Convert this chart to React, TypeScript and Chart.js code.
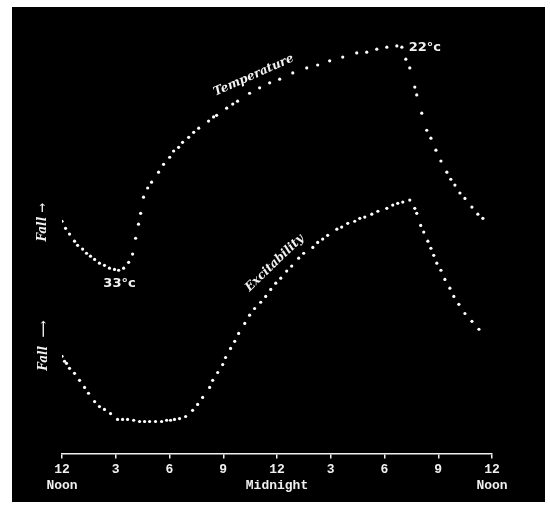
import React, { useEffect, useRef } from "react";
import { Chart, registerables } from "chart.js";

Chart.register(...registerables);

// Hours after noon (0 = 12 noon, 24 = next noon)
const tempHours = [0.0, 0.2, 0.42, 0.7, 0.87, 1.15, 1.37, 1.59, 1.82, 2.09, 2.37, 2.65, 2.93, 3.16, 3.44, 3.72, 3.94, 4.11, 4.27, 4.39, 4.55, 4.78, 5.0, 5.39, 5.67, 6.01, 6.23, 6.51, 6.73, 7.07, 7.35, 7.63, 8.18, 8.46, 8.63, 9.19, 9.53, 9.8, 10.47, 11.03, 11.59, 12.15, 12.88, 13.66, 14.27, 14.94, 15.67, 16.45, 17.01, 17.57, 18.13, 18.69, 18.97, 19.19, 19.41, 19.69, 19.8, 20.08, 20.36, 20.59, 20.87, 21.15, 21.48, 21.7, 21.93, 22.21, 22.49, 22.88, 23.21, 23.49];
// Relative "fall" level (arbitrary units, 0..100)
const tempValues = [55.9, 54.2, 52.8, 51.1, 50.1, 49.2, 48.2, 47.5, 46.7, 45.8, 45.3, 44.6, 44.3, 44.1, 44.6, 46.0, 48.0, 51.8, 55.2, 57.8, 61.7, 63.9, 65.3, 67.7, 69.6, 71.3, 72.8, 73.7, 74.9, 76.1, 77.3, 78.3, 80.0, 81.0, 81.4, 83.1, 84.1, 84.8, 86.7, 88.0, 89.2, 90.1, 91.6, 92.8, 93.5, 94.5, 95.4, 96.4, 96.6, 97.3, 97.8, 98.1, 97.8, 94.9, 92.8, 88.2, 86.3, 81.9, 77.8, 75.9, 73.0, 70.4, 67.7, 66.0, 64.6, 62.7, 61.4, 59.3, 57.6, 56.6];

const excHours = [0.0, 0.14, 0.25, 0.42, 0.7, 0.98, 1.26, 1.48, 1.82, 2.09, 2.37, 2.71, 3.1, 3.38, 3.66, 4.0, 4.33, 4.61, 4.89, 5.22, 5.56, 5.84, 6.06, 6.28, 6.56, 6.9, 7.29, 7.57, 7.85, 8.24, 8.41, 8.69, 8.97, 9.13, 9.41, 9.64, 9.86, 10.2, 10.47, 10.75, 11.09, 11.37, 11.65, 11.93, 12.21, 12.54, 12.82, 13.21, 13.49, 14.0, 14.27, 14.55, 14.83, 15.34, 15.61, 15.95, 16.34, 16.62, 16.9, 17.29, 17.63, 18.13, 18.46, 18.74, 19.02, 19.41, 19.69, 19.8, 20.02, 20.19, 20.42, 20.59, 20.75, 20.92, 21.15, 21.37, 21.65, 21.87, 22.15, 22.49, 22.88, 23.27];
const excValues = [23.4, 22.2, 21.7, 20.5, 19.3, 17.6, 15.9, 14.5, 12.5, 11.3, 10.6, 9.6, 8.2, 8.2, 8.2, 8.0, 7.7, 7.7, 7.7, 7.7, 7.7, 8.0, 8.0, 8.2, 8.4, 8.9, 10.4, 11.8, 13.5, 15.9, 17.6, 19.5, 21.4, 23.1, 25.3, 27.0, 28.9, 31.3, 33.3, 34.9, 36.4, 37.8, 39.5, 41.0, 42.2, 43.9, 45.1, 47.0, 48.2, 49.6, 50.8, 51.6, 52.5, 54.0, 54.5, 55.4, 55.9, 56.6, 56.9, 57.6, 58.3, 59.0, 59.8, 60.2, 60.5, 61.0, 59.0, 57.8, 54.9, 53.3, 51.1, 49.4, 47.7, 45.8, 44.1, 41.9, 39.8, 37.8, 35.9, 33.7, 31.8, 29.9];

const tickHours = [0, 3, 6, 9, 12, 15, 18, 21, 24];
const tickLabels = ["12", "3", "6", "9", "12", "3", "6", "9", "12"];
const tickSubLabels = ["Noon", "", "", "", "Midnight", "", "", "", "Noon"];

// Text annotations: [text, hour, value, rotation(deg), font]
const notes: [string, number, number, number, string][] = [
  ["Temperature", 10.7, 91.0, -24, "italic bold 12px 'DejaVu Serif'"],
  ["Excitability", 11.87, 45.8, -44, "italic bold 12px 'DejaVu Serif'"],
  ["33°c", 3.21, 41.0, 0, "bold 13px 'DejaVu Sans'"],
  ["22°c", 20.25, 97.6, 0, "bold 13px 'DejaVu Sans'"],
  ["Fall →", -1.09, 55.7, -90, "italic bold 12px 'DejaVu Serif'"],
  ["Fall  ⟶", -1.03, 26.0, -90, "italic bold 12px 'DejaVu Serif'"],
];

const toPts = (xs: number[], ys: number[]) => xs.map((x, i) => ({ x, y: ys[i] }));

export default function App() {
  const ref = useRef<HTMLCanvasElement | null>(null);
  useEffect(() => {
    if (!ref.current) return;
    const notesPlugin = {
      id: "notes",
      afterDatasetsDraw(chart: any) {
        const { ctx, scales } = chart;
        ctx.save();
        ctx.fillStyle = "#f2f2f2";
        ctx.textAlign = "center";
        ctx.textBaseline = "middle";
        for (const [t, h, v, rot, font] of notes) {
          const px = scales.x.getPixelForValue(h);
          const py = scales.y.getPixelForValue(v);
          ctx.save();
          ctx.translate(px, py);
          ctx.rotate((rot * Math.PI) / 180);
          ctx.font = font;
          ctx.fillText(t, 0, 0);
          ctx.restore();
        }
        ctx.restore();
      },
    };
    const chart = new Chart(ref.current, {
      type: "scatter",
      data: {
        datasets: [
          {
            label: "Temperature",
            data: toPts(tempHours, tempValues),
            pointRadius: 1.6,
            pointBackgroundColor: "#ffffff",
            pointBorderWidth: 0,
            showLine: false,
          },
          {
            label: "Excitability",
            data: toPts(excHours, excValues),
            pointRadius: 1.6,
            pointBackgroundColor: "#ffffff",
            pointBorderWidth: 0,
            showLine: false,
          },
        ],
      },
      options: {
        animation: false,
        responsive: false,
        maintainAspectRatio: false,
        layout: { padding: { left: 50, right: 53, top: 31, bottom: 5 } },
        plugins: { legend: { display: false }, tooltip: { enabled: false } },
        scales: {
          x: {
            type: "linear",
            min: 0,
            max: 24,
            afterBuildTicks: (axis: any) => {
              axis.ticks = tickHours.map((v) => ({ value: v }));
            },
            border: { display: true, color: "#f0f0f0", width: 1.5 },
            grid: {
              drawOnChartArea: false,
              drawTicks: true,
              tickLength: 5,
              color: "#f0f0f0",
              lineWidth: 1.5,
            },
            ticks: {
              color: "#f0f0f0",
              padding: 3,
              maxRotation: 0,
              autoSkip: false,
              font: { family: "'Liberation Mono'", size: 13, weight: "bold", lineHeight: 1.25 },
              callback: (val: any) => {
                const i = tickHours.indexOf(Number(val));
                if (i < 0) return "";
                return tickSubLabels[i] ? [tickLabels[i], tickSubLabels[i]] : tickLabels[i];
              },
            },
          },
          y: { display: false, min: 0, max: 100 },
        },
      },
      plugins: [notesPlugin],
    } as any);
    return () => chart.destroy();
  }, []);
  return (
    <div style={{ position: "absolute", left: 0, top: 0, width: 550, height: 512, background: "#ffffff" }}>
      <div style={{ position: "absolute", left: 12, top: 7, width: 533, height: 495, background: "#000000" }}>
        <canvas ref={ref} width={533} height={495} style={{ display: "block" }} />
      </div>
    </div>
  );
}
